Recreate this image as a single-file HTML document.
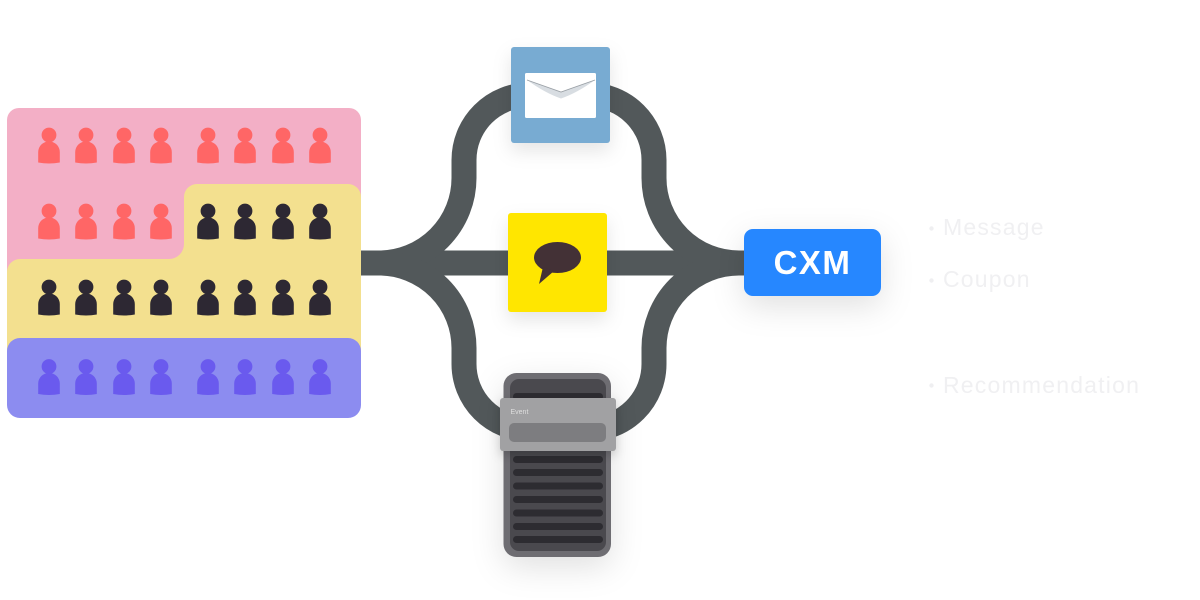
<!DOCTYPE html>
<html>
<head>
<meta charset="utf-8">
<style>
  html, body { margin: 0; padding: 0; background: #ffffff; }
  body { width: 1200px; height: 600px; overflow: hidden; }
  svg { display: block; }
</style>
</head>
<body>
<svg width="1200" height="600" viewBox="0 0 1200 600" xmlns="http://www.w3.org/2000/svg">
  <defs>
    <filter id="sh" x="-50%" y="-50%" width="200%" height="200%">
      <feDropShadow dx="0" dy="8" stdDeviation="9" flood-color="#000" flood-opacity="0.10"/>
    </filter>
    <filter id="sh2" x="-80%" y="-80%" width="260%" height="260%">
      <feDropShadow dx="0" dy="10" stdDeviation="16" flood-color="#000" flood-opacity="0.12"/>
    </filter>
    <filter id="sh3" x="-30%" y="-50%" width="160%" height="200%">
      <feDropShadow dx="0" dy="4" stdDeviation="5" flood-color="#000" flood-opacity="0.18"/>
    </filter>
    <g id="p">
      <circle cx="0" cy="0" r="7.4"/>
      <path d="M-10.8,27.5 V17 A10.8,10.6 0 0 1 10.8,17 V27.5 Q0,29.5 -10.8,27.5 Z"/>
    </g>
  </defs>

  <!-- Segments panel -->
  <rect x="7" y="108" width="354" height="210" rx="12" fill="#f3afc6"/>
  <path d="M197,184 H348 A13,13 0 0 1 361,197 V360 H7 V272 A13,13 0 0 1 20,259 H169 A15,15 0 0 0 184,244 V197 A13,13 0 0 1 197,184 Z" fill="#f3e08f"/>
  <rect x="7" y="338" width="354" height="80" rx="13" fill="#8c8cf0"/>

  <!-- people row 1 -->
  <g fill="#ff6666">
    <use href="#p" x="49" y="135"/><use href="#p" x="86" y="135"/><use href="#p" x="124" y="135"/><use href="#p" x="161" y="135"/>
    <use href="#p" x="208" y="135"/><use href="#p" x="245" y="135"/><use href="#p" x="283" y="135"/><use href="#p" x="320" y="135"/>
  </g>
  <!-- row 2 -->
  <g fill="#ff6666">
    <use href="#p" x="49" y="211"/><use href="#p" x="86" y="211"/><use href="#p" x="124" y="211"/><use href="#p" x="161" y="211"/>
  </g>
  <g fill="#2d2833">
    <use href="#p" x="208" y="211"/><use href="#p" x="245" y="211"/><use href="#p" x="283" y="211"/><use href="#p" x="320" y="211"/>
  </g>
  <!-- row 3 -->
  <g fill="#2d2833">
    <use href="#p" x="49" y="287"/><use href="#p" x="86" y="287"/><use href="#p" x="124" y="287"/><use href="#p" x="161" y="287"/>
    <use href="#p" x="208" y="287"/><use href="#p" x="245" y="287"/><use href="#p" x="283" y="287"/><use href="#p" x="320" y="287"/>
  </g>
  <!-- row 4 -->
  <g fill="#6a5aee">
    <use href="#p" x="49" y="366.5"/><use href="#p" x="86" y="366.5"/><use href="#p" x="124" y="366.5"/><use href="#p" x="161" y="366.5"/>
    <use href="#p" x="208" y="366.5"/><use href="#p" x="245" y="366.5"/><use href="#p" x="283" y="366.5"/><use href="#p" x="320" y="366.5"/>
  </g>

  <!-- connectors -->
  <g fill="none" stroke="#52585a" stroke-width="25">
    <path d="M361,263 H750"/>
    <path d="M370,263 H379 A85,85 0 0 0 464,178 V160 A65,65 0 0 1 529,95 H589 A65,65 0 0 1 654,160 V178 A85,85 0 0 0 739,263"/>
    <path d="M370,263 H379 A85,85 0 0 1 464,348 V364 A65,65 0 0 0 529,429 H589 A65,65 0 0 0 654,364 V348 A85,85 0 0 1 739,263"/>
  </g>

  <!-- Email box -->
  <g filter="url(#sh)">
    <rect x="511" y="47" width="99" height="96" rx="3" fill="#78abd2"/>
  </g>
  <rect x="525" y="73" width="71" height="45" rx="1.5" fill="#ffffff"/>
  <path d="M527,80 L561,92 L595,80 Q577,93 561,98.5 Q545,93 527,80 Z" fill="#d8dde2"/>
  <path d="M527,80 L561,92 L595,80" fill="none" stroke="#9aa0a6" stroke-width="0.9"/>

  <!-- Kakao box -->
  <g filter="url(#sh)">
    <rect x="508" y="213" width="99" height="99" rx="3" fill="#ffe600"/>
  </g>
  <ellipse cx="557.5" cy="257.5" rx="23.5" ry="15.5" fill="#433136"/>
  <path d="M543,267 L539,284 L554,271 Z" fill="#433136"/>

  <!-- Phone -->
  <g filter="url(#sh2)">
    <rect x="503.5" y="373" width="107.5" height="184" rx="13" fill="#6e6d72"/>
  </g>
  <rect x="510" y="379" width="96" height="172" rx="9" fill="#4a494e"/>
  <g fill="#2d2c31">
    <rect x="513" y="393" width="90" height="7" rx="3.5"/>
    <rect x="513" y="456" width="90" height="7" rx="3.5"/>
    <rect x="513" y="469" width="90" height="7" rx="3.5"/>
    <rect x="513" y="482.5" width="90" height="7" rx="3.5"/>
    <rect x="513" y="496" width="90" height="7" rx="3.5"/>
    <rect x="513" y="509.5" width="90" height="7" rx="3.5"/>
    <rect x="513" y="523" width="90" height="7" rx="3.5"/>
    <rect x="513" y="536" width="90" height="7" rx="3.5"/>
  </g>
  <g filter="url(#sh3)">
    <rect x="500" y="398" width="116" height="53" rx="3" fill="#a1a1a3"/>
  </g>
  <text x="510.5" y="414" font-family="Liberation Sans, sans-serif" font-size="7" fill="#dedede">Event</text>
  <rect x="509" y="423" width="97" height="19" rx="5" fill="#7d7d80"/>

  <!-- CXM -->
  <g filter="url(#sh2)">
    <rect x="744" y="229" width="137" height="67" rx="9" fill="#2787ff"/>
  </g>
  <text x="812.5" y="274" text-anchor="middle" font-family="Liberation Sans, sans-serif" font-weight="bold" font-size="33" letter-spacing="1.5" fill="#ffffff">CXM</text>

  <!-- right labels -->
  <g fill="#efeff1">
    <circle cx="931.5" cy="228.5" r="2.2"/>
    <circle cx="931.5" cy="280.5" r="2.2"/>
    <circle cx="931.5" cy="385.5" r="2.2"/>
  </g>
  <g font-family="Liberation Sans, sans-serif" font-size="23" fill="#f0f0f2" letter-spacing="1.2">
    <text x="943" y="235">Message</text>
    <text x="943" y="287">Coupon</text>
    <text x="943" y="393">Recommendation</text>
  </g>
</svg>
</body>
</html>
